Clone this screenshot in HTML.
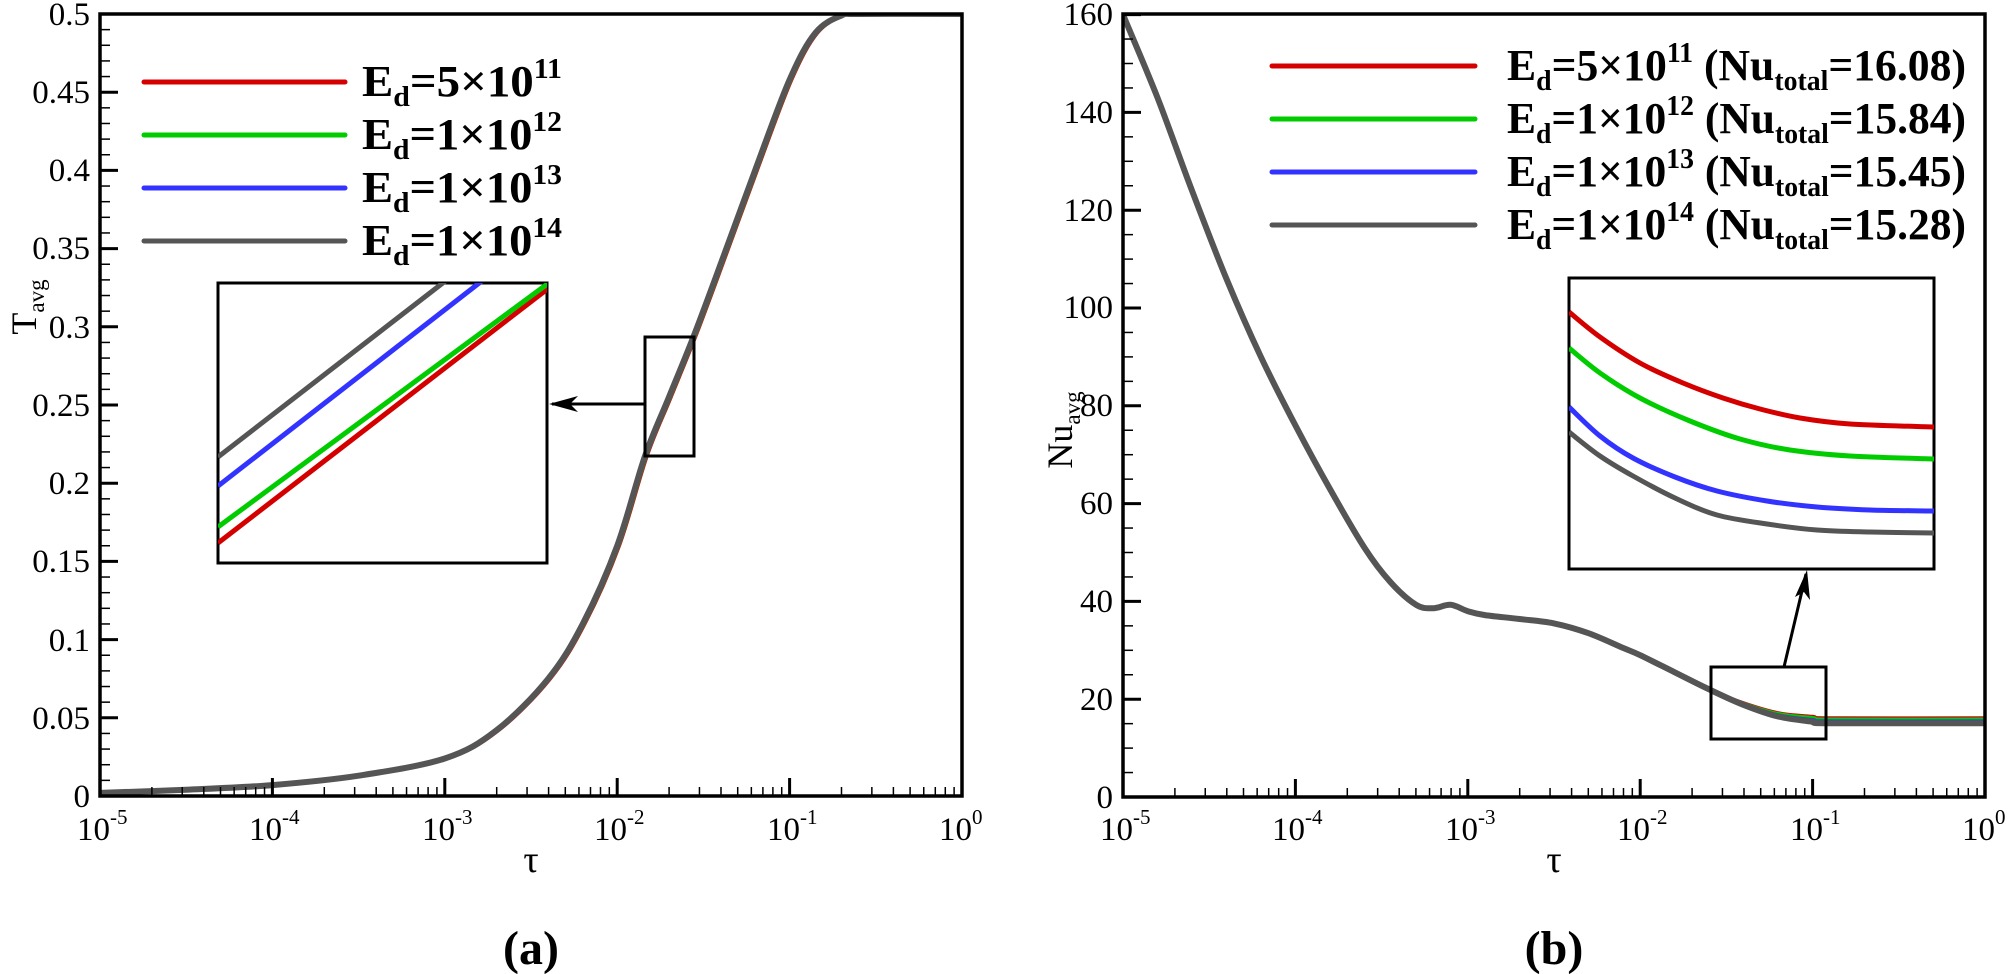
<!DOCTYPE html>
<html><head><meta charset="utf-8"><style>
html,body{margin:0;padding:0;background:#fff;}
svg{display:block;font-family:"Liberation Serif","Times New Roman",serif;}
</style></head><body>
<svg id="s" width="2008" height="974" viewBox="0 0 2008 974" xmlns="http://www.w3.org/2000/svg">
<rect width="2008" height="974" fill="#fff"/>
<defs>
<clipPath id="cl"><rect x="100" y="14" width="862" height="782"/></clipPath>
<clipPath id="cr"><rect x="1123" y="14" width="862" height="783"/></clipPath>
<clipPath id="cil"><rect x="218" y="283" width="329" height="280"/></clipPath>
<clipPath id="cir"><rect x="1569" y="278" width="365" height="291"/></clipPath>
</defs>
<g id="curves"></g>
<g id="ticks" stroke="#000" fill="none"></g>
<rect x="100" y="14" width="862" height="782" fill="none" stroke="#000" stroke-width="3.5"/>
<rect x="1123" y="14" width="862" height="783" fill="none" stroke="#000" stroke-width="3.5"/>

<g font-size="33" text-anchor="end" fill="#000">
<text x="90" y="25">0.5</text>
<text x="90" y="103">0.45</text>
<text x="90" y="181">0.4</text>
<text x="90" y="259">0.35</text>
<text x="90" y="338">0.3</text>
<text x="90" y="416">0.25</text>
<text x="90" y="494">0.2</text>
<text x="90" y="572">0.15</text>
<text x="90" y="651">0.1</text>
<text x="90" y="729">0.05</text>
<text x="90" y="807">0</text>
</g>
<g font-size="33" text-anchor="end" fill="#000">
<text x="1113" y="25">160</text>
<text x="1113" y="123">140</text>
<text x="1113" y="221">120</text>
<text x="1113" y="318">100</text>
<text x="1113" y="416">80</text>
<text x="1113" y="514">60</text>
<text x="1113" y="612">40</text>
<text x="1113" y="710">20</text>
<text x="1113" y="808">0</text>
</g>
<g font-size="33" fill="#000">
<text x="77" y="840">10<tspan font-size="21" dy="-16">-5</tspan></text>
<text x="249" y="840">10<tspan font-size="21" dy="-16">-4</tspan></text>
<text x="422" y="840">10<tspan font-size="21" dy="-16">-3</tspan></text>
<text x="594" y="840">10<tspan font-size="21" dy="-16">-2</tspan></text>
<text x="767" y="840">10<tspan font-size="21" dy="-16">-1</tspan></text>
<text x="939" y="840">10<tspan font-size="21" dy="-16">0</tspan></text>
<text x="1100" y="840">10<tspan font-size="21" dy="-16">-5</tspan></text>
<text x="1272" y="840">10<tspan font-size="21" dy="-16">-4</tspan></text>
<text x="1445" y="840">10<tspan font-size="21" dy="-16">-3</tspan></text>
<text x="1617" y="840">10<tspan font-size="21" dy="-16">-2</tspan></text>
<text x="1790" y="840">10<tspan font-size="21" dy="-16">-1</tspan></text>
<text x="1962" y="840">10<tspan font-size="21" dy="-16">0</tspan></text>
</g>
<text x="531" y="872" font-size="38" text-anchor="middle">τ</text>
<text x="1554" y="872" font-size="38" text-anchor="middle">τ</text>
<text transform="translate(36,307) rotate(-90)" font-size="36" text-anchor="middle">T<tspan font-size="23" dy="8">avg</tspan></text>
<text transform="translate(1072,430) rotate(-90)" font-size="36" text-anchor="middle">Nu<tspan font-size="23" dy="8">avg</tspan></text>
<text x="531" y="964" font-size="48" font-weight="bold" text-anchor="middle">(a)</text>
<text x="1554" y="964" font-size="48" font-weight="bold" text-anchor="middle">(b)</text>

<g stroke-width="5" stroke-linecap="round">
<line x1="144" y1="82" x2="345" y2="82" stroke="#d40000"/>
<line x1="144" y1="135" x2="345" y2="135" stroke="#00cc00"/>
<line x1="144" y1="188" x2="345" y2="188" stroke="#3333ff"/>
<line x1="144" y1="241" x2="345" y2="241" stroke="#555"/>
<line x1="1272" y1="66" x2="1475" y2="66" stroke="#d40000"/>
<line x1="1272" y1="119" x2="1475" y2="119" stroke="#00cc00"/>
<line x1="1272" y1="172" x2="1475" y2="172" stroke="#3333ff"/>
<line x1="1272" y1="225" x2="1475" y2="225" stroke="#555"/>
</g>
<g font-size="44" font-weight="bold" fill="#000">
<text x="362" y="96" textLength="200" lengthAdjust="spacingAndGlyphs">E<tspan font-size="28" dy="10">d</tspan><tspan dy="-10">=5×10</tspan><tspan font-size="28" dy="-18">11</tspan></text>
<text x="362" y="149" textLength="200" lengthAdjust="spacingAndGlyphs">E<tspan font-size="28" dy="10">d</tspan><tspan dy="-10">=1×10</tspan><tspan font-size="28" dy="-18">12</tspan></text>
<text x="362" y="202" textLength="200" lengthAdjust="spacingAndGlyphs">E<tspan font-size="28" dy="10">d</tspan><tspan dy="-10">=1×10</tspan><tspan font-size="28" dy="-18">13</tspan></text>
<text x="362" y="255" textLength="200" lengthAdjust="spacingAndGlyphs">E<tspan font-size="28" dy="10">d</tspan><tspan dy="-10">=1×10</tspan><tspan font-size="28" dy="-18">14</tspan></text>
<text x="1507" y="80" textLength="459" lengthAdjust="spacingAndGlyphs">E<tspan font-size="28" dy="10">d</tspan><tspan dy="-10">=5×10</tspan><tspan font-size="28" dy="-18">11</tspan><tspan dy="18"> (Nu</tspan><tspan font-size="28" dy="10">total</tspan><tspan dy="-10">=16.08)</tspan></text>
<text x="1507" y="133" textLength="459" lengthAdjust="spacingAndGlyphs">E<tspan font-size="28" dy="10">d</tspan><tspan dy="-10">=1×10</tspan><tspan font-size="28" dy="-18">12</tspan><tspan dy="18"> (Nu</tspan><tspan font-size="28" dy="10">total</tspan><tspan dy="-10">=15.84)</tspan></text>
<text x="1507" y="186" textLength="459" lengthAdjust="spacingAndGlyphs">E<tspan font-size="28" dy="10">d</tspan><tspan dy="-10">=1×10</tspan><tspan font-size="28" dy="-18">13</tspan><tspan dy="18"> (Nu</tspan><tspan font-size="28" dy="10">total</tspan><tspan dy="-10">=15.45)</tspan></text>
<text x="1507" y="239" textLength="459" lengthAdjust="spacingAndGlyphs">E<tspan font-size="28" dy="10">d</tspan><tspan dy="-10">=1×10</tspan><tspan font-size="28" dy="-18">14</tspan><tspan dy="18"> (Nu</tspan><tspan font-size="28" dy="10">total</tspan><tspan dy="-10">=15.28)</tspan></text>
</g>

<rect x="218" y="283" width="329" height="280" fill="#fff" stroke="#000" stroke-width="3"/>
<rect x="645" y="337" width="49" height="119" fill="none" stroke="#000" stroke-width="3"/>
<line x1="645" y1="404" x2="552" y2="404" stroke="#000" stroke-width="3"/>
<path d="M549,404 L578,396 L570,404 L578,412 Z" fill="#000"/>
<rect x="1569" y="278" width="365" height="291" fill="#fff" stroke="#000" stroke-width="3"/>
<rect x="1711" y="667" width="115" height="72" fill="none" stroke="#000" stroke-width="3"/>
<line x1="1784" y1="667" x2="1806" y2="574" stroke="#000" stroke-width="3"/>
<path d="M1807,570 L1810,600 L1804,592 L1795,597 Z" fill="#000"/>
<g id="insetcurves" fill="none" stroke-width="5"></g>
</svg>
<script>
(function(){
var NS="http://www.w3.org/2000/svg";
function el(p,n,a){var e=document.createElementNS(NS,n);for(var k in a)e.setAttribute(k,a[k]);p.appendChild(e);return e;}
var T=document.getElementById('ticks');
function xt(x0,yb){for(var d=0;d<=5;d++){var x=x0+d*172.4;el(T,'line',{x1:x,y1:yb,x2:x,y2:yb-18,'stroke-width':3});
 if(d<5)for(var m=2;m<=9;m++){var xm=x+Math.log10(m)*172.4;el(T,'line',{x1:xm,y1:yb,x2:xm,y2:yb-9,'stroke-width':1.5});}}}
xt(100,796);xt(1123,797);
for(var i=0;i<=50;i++){var y=796-i*15.64;var maj=i%5==0;el(T,'line',{x1:100,y1:y,x2:100+(maj?18:10),y2:y,'stroke-width':maj?3:1.5});}
for(var i=0;i<=32;i++){var y=797-i*24.45;var maj=i%4==0;el(T,'line',{x1:1123,y1:y,x2:1123+(maj?18:10),y2:y,'stroke-width':maj?3:1.5});}
function spline(pts){var d='';var n=pts.length;
 for(var i=0;i<n-1;i++){var p0=pts[Math.max(i-1,0)],p1=pts[i],p2=pts[i+1],p3=pts[Math.min(i+2,n-1)];
  if(i==0)d+='M'+p1[0].toFixed(1)+','+p1[1].toFixed(1);
  var c1=[p1[0]+(p2[0]-p0[0])/6,p1[1]+(p2[1]-p0[1])/6],c2=[p2[0]-(p3[0]-p1[0])/6,p2[1]-(p3[1]-p1[1])/6];
  d+='C'+c1[0].toFixed(1)+','+c1[1].toFixed(1)+' '+c2[0].toFixed(1)+','+c2[1].toFixed(1)+' '+p2[0].toFixed(1)+','+p2[1].toFixed(1);}
 return d;}
var cols=['#d40000','#00cc00','#3333ff','#555'];
var C=document.getElementById('curves');
var Tp=[[-5,.002],[-4.5,.004],[-4,.007],[-3.5,.013],[-3,.024],[-2.7,.042],[-2.4,.075],[-2.2,.11],[-2,.16],[-1.84,.217],[-1.7,.255],[-1.56,.293],[-1.4,.34],[-1.2,.40],[-1,.458],[-.85,.488],[-.7,.499],[-.6,.5],[0,.5]];
var gl=el(C,'g',{'clip-path':'url(#cl)',fill:'none'});
for(var s=0;s<4;s++){var pts=Tp.map(function(p){return [100+(p[0]+5)*172.4+(3-s)*0.6,796-p[1]*1564];});
 el(gl,'path',{d:spline(pts),stroke:cols[s],'stroke-width':s==3?6:4});}
var Np=[[-5,160],[-4.8,143],[-4.6,124],[-4.4,106],[-4.2,90],[-4,76],[-3.8,63],[-3.6,51],[-3.45,44],[-3.3,39.3],[-3.2,38.6],[-3.1,39.3],[-3.0,38],[-2.9,37.2],[-2.7,36.4],[-2.5,35.5],[-2.3,33.5],[-2.1,30.5],[-2,29],[-1.8,25.5],[-1.6,22],[-1.4,19],[-1.2,16.8],[-1,15.9],[-0.9,15.6],[0,15.6]];
var fin=[16.1,15.85,15.45,15.1];
var gr=el(C,'g',{'clip-path':'url(#cr)',fill:'none'});
for(var s=0;s<4;s++){var pts=Np.map(function(p){var v=p[1];if(p[0]>-1.6){var w=Math.min(1,(p[0]+1.6)/0.6);v=p[1]+(fin[s]-15.6)*w;}return [1123+(p[0]+5)*172.4,797-v*4.89];});
 el(gr,'path',{d:spline(pts),stroke:cols[s],'stroke-width':s==3?6:4});}
var I=document.getElementById('insetcurves');
var gi=el(I,'g',{'clip-path':'url(#cil)'});
var il=[[[218,543],[550,287]],[[218,527],[550,282]],[[218,486],[550,228]],[[218,457],[550,200]]];
for(var s=0;s<4;s++)el(gi,'line',{x1:il[s][0][0],y1:il[s][0][1],x2:il[s][1][0],y2:il[s][1][1],stroke:cols[s],'stroke-width':5});
var gj=el(I,'g',{'clip-path':'url(#cir)'});
var ir=[[[1569,312],[1600,337],[1640,363],[1683,383],[1723,398],[1760,409],[1800,418],[1850,424],[1934,427]],
[[1569,348],[1600,373],[1640,398],[1690,421],[1740,439],[1790,450],[1850,456],[1934,459]],
[[1569,407],[1600,436],[1633,458],[1675,477],[1717,491],[1767,501],[1817,507],[1870,510],[1934,511]],
[[1569,432],[1600,456],[1633,476],[1675,498],[1717,515],[1767,524],[1817,530],[1870,532],[1934,533]]];
for(var s=0;s<4;s++)el(gj,'path',{d:spline(ir[s]),stroke:cols[s],'stroke-width':5,fill:'none'});
})();
</script>
</body></html>
